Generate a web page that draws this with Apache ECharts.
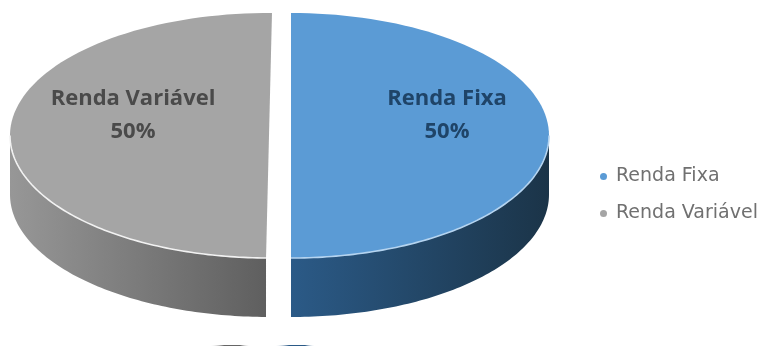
<!DOCTYPE html>
<html><head><meta charset="utf-8">
<style>html,body{margin:0;padding:0;background:#fff}#c{width:763px;height:346px;filter:blur(0.6px)}</style>
<script src="https://cdn.jsdelivr.net/npm/echarts@6/dist/echarts.min.js"></script>
</head><body><div id="c"></div>
<script>
const categories = ['Renda Fixa', 'Renda Variável'];
const values = [50, 50];
const percentLabels = ['50%', '50%'];

const look = [
  {cx: 291, cy: 135.5, rx: 258, ry: 122.5, depth: 59, start: -90,
   top: '#5b9bd5', rim: '#b5d4f0', text: '#1f4468',
   wall: ['#2b5a87', '#1b3448'], labelDx: 156},
  {cx: 269, cy: 135.5, rx: 259, ry: 122.5, depth: 59, start: 90.66,
   top: '#a5a5a5', rim: '#f2f2f2', text: '#4a4a4a',
   wall: ['#979797', '#5f5f5f'], labelDx: -136}
];
const total = values.reduce((a, b) => a + b, 0);

function arcPts(s, a0, a1) {
  const pts = [], n = 90;
  for (let i = 0; i <= n; i++) {
    const t = (a0 + (a1 - a0) * i / n) * Math.PI / 180;
    pts.push([s.cx + s.rx * Math.cos(t), s.cy + s.ry * Math.sin(t)]);
  }
  return pts;
}

function makeRender(idx) {
  return function (params, api) {
    const s = look[idx];
    const sweep = api.value(0) / total * 360;
    const a0 = s.start, a1 = s.start + sweep;
    const visA = Math.max(a0, 0), visB = Math.min(a1, 180);
    const rim = arcPts(s, visA, visB);
    const wallPts = rim.concat(rim.slice().reverse().map(p => [p[0], p[1] + s.depth]));
    const topPts = [[s.cx, s.cy]].concat(arcPts(s, a0, a1));
    const lx = s.cx + s.labelDx;
    return {
      type: 'group',
      children: [
        {type: 'polygon', shape: {points: wallPts}, style: {
          fill: new echarts.graphic.LinearGradient(0, 0, 1, 0, [
            {offset: 0, color: s.wall[0]},
            {offset: 1, color: s.wall[1]}
          ])}},
        {type: 'polygon', shape: {points: topPts}, style: {fill: s.top}},
        {type: 'polyline', shape: {points: rim}, style: {stroke: s.rim, lineWidth: 1.6, fill: null}},
        {type: 'text', style: {x: lx, y: 99, text: categories[idx], fill: s.text,
          font: 'bold 22px "Open Sans"', align: 'center', verticalAlign: 'middle'}},
        {type: 'text', style: {x: lx, y: 132, text: percentLabels[idx], fill: s.text,
          font: 'bold 22px "Open Sans"', align: 'center', verticalAlign: 'middle'}}
      ]
    };
  };
}

function sliver(x, w, c) {
  return {type: 'rect', left: x, top: 345, shape: {width: w, height: 1}, silent: true, style: {
    fill: new echarts.graphic.LinearGradient(0, 0, 1, 0, [
      {offset: 0, color: 'rgba(255,255,255,0)'}, {offset: 0.35, color: c},
      {offset: 0.75, color: c}, {offset: 1, color: 'rgba(255,255,255,0)'}])}};
}

const chart = echarts.init(document.getElementById('c'), null, {renderer: 'canvas'});
chart.setOption({
  animation: false,
  backgroundColor: '#fff',
  graphic: [sliver(210, 40, '#666666'), sliver(275, 40, '#2b5a87')],
  legend: {
    orient: 'vertical', left: 595, top: 162, itemGap: 18,
    itemWidth: 7, itemHeight: 7, icon: 'circle', selectedMode: false,
    textStyle: {fontFamily: '"DejaVu Sans"', fontSize: 19, color: '#707070', padding: [0, 0, 0, 4]},
    data: categories.map((c, i) => ({name: c, itemStyle: {color: look[i].top}}))
  },
  series: categories.map((c, i) => ({
    type: 'custom', name: c, coordinateSystem: 'none',
    color: look[i].top,
    renderItem: makeRender(i),
    data: [[values[i]]]
  }))
});
</script></body></html>
